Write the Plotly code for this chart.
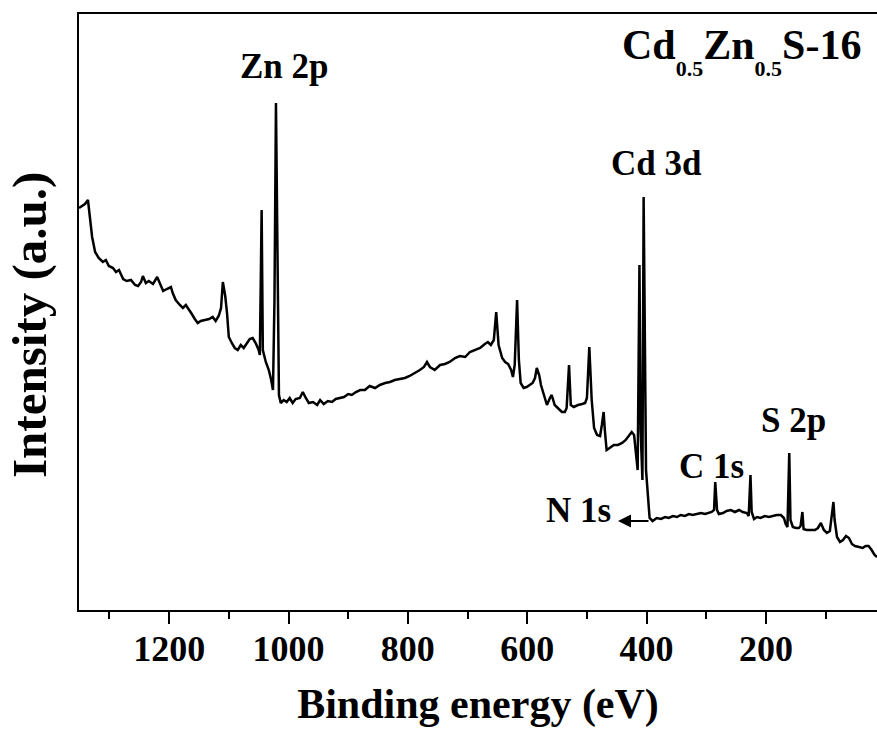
import plotly.graph_objects as go

# Binding energy (eV)
binding_energy = [
    1351, 1346, 1341, 1336, 1333, 1329, 1324, 1318, 1311, 1306, 1301, 1294, 1289, 1284,
    1277, 1271, 1264, 1257, 1252, 1247, 1244, 1239, 1234, 1227, 1220, 1215, 1210, 1204,
    1197, 1194, 1189, 1182, 1177, 1172, 1167, 1162, 1157, 1152, 1147, 1140, 1133, 1127,
    1122, 1117, 1113, 1110, 1106, 1103, 1100, 1095, 1090, 1085, 1080, 1075, 1070, 1065,
    1060, 1055, 1050, 1048, 1045, 1043, 1038, 1033, 1029, 1026, 1023.5, 1021, 1018.5,
    1016, 1013, 1008, 1003, 998, 993, 988, 981, 976, 971, 966, 959, 952, 947, 941, 934,
    927, 921, 914, 907, 900, 894, 887, 880, 872, 864, 855, 847, 838, 830, 822, 813, 805,
    797, 788, 780, 773, 768, 763, 755, 746, 738, 730, 721, 713, 704, 696, 688, 679, 671,
    666, 661, 656, 652, 648, 642, 637, 632, 627, 624, 621, 617, 614, 611, 606, 601, 596,
    591, 587, 584, 580, 577, 572, 567, 562, 559, 554, 549, 542, 537, 534, 530, 527, 522,
    515, 508, 503, 500, 496, 492, 488, 483, 478, 475, 472, 470, 467, 462, 455, 448, 441,
    435, 430, 425, 421, 418, 415, 412, 410, 407, 405, 401, 398, 395, 390, 383, 376, 369,
    363, 356, 349, 343, 336, 329, 323, 316, 309, 302, 296, 291, 287, 285, 282, 279, 272,
    266, 259, 252, 245, 239, 232, 229, 226, 224, 220, 215, 209, 202, 195, 189, 182, 175,
    170, 167, 164, 161, 159, 155, 150, 145, 142, 139, 137, 132, 125, 118, 113, 108, 103,
    98, 93, 90, 87, 85, 81, 76, 71, 66, 61, 56, 51, 44, 38, 33, 28, 23, 18, 14,
]

# Intensity (a.u.)
intensity = [
    402, 404, 406, 410, 395, 373, 358, 352, 348, 350, 344, 342, 338, 340,
    331, 329, 330, 325, 324, 328, 334, 327, 329, 326, 333, 326, 319, 321,
    323, 317, 310, 305, 302, 305, 301, 296, 291, 287, 289, 290, 291, 293,
    289, 294, 302, 328, 314, 297, 273, 267, 262, 260, 265, 262, 267, 271,
    272, 267, 260, 255, 400, 260, 248, 240, 230, 220, 310, 507, 360,
    215, 207, 210, 208, 212, 207, 211, 212, 218, 212, 207, 208, 205, 210, 206, 209,
    208, 211, 212, 213, 216, 215, 218, 220, 220, 224, 222, 225, 227, 228, 230, 231, 232,
    234, 237, 240, 243, 248, 243, 240, 245, 246, 248, 252, 254, 253, 258, 260, 262, 266,
    268, 265, 270, 298, 265, 252, 248, 246, 240, 233, 245, 310, 250, 227, 222, 223, 225,
    227, 232, 242, 235, 225, 215, 205, 212, 215, 205, 202, 198, 198, 202, 245, 205, 203,
    205, 206, 207, 212, 263, 210, 182, 175, 174, 185, 198, 180, 160, 162, 165, 165, 167,
    170, 174, 178, 175, 160, 140, 345, 180, 130, 413, 140, 110, 92, 89, 92, 91, 93,
    92, 94, 93, 95, 94, 96, 95, 96, 97, 96, 97, 98, 100, 128, 100, 96, 97,
    99, 100, 98, 100, 98, 97, 94, 135, 98, 91, 93, 92, 94, 93, 94, 95, 95,
    92, 86, 83, 157, 90, 83, 82, 82, 84, 98, 81, 80, 80, 80, 82, 87, 80,
    77, 79, 95, 108, 90, 73, 68, 70, 74, 72, 66, 64, 63, 62, 64, 64, 60, 55, 53,
]

x_tick_values = [1200, 1000, 800, 600, 400, 200]
x_tick_labels = ["1200", "1000", "800", "600", "400", "200"]

peak_labels = ["Zn 2p", "Cd 3d", "C 1s", "S 2p", "N 1s"]
SUB = '<span style="font-size:22px;baseline-shift:-17px">{}</span>'
sample_label = "Cd" + SUB.format("0.5") + "Zn" + SUB.format("0.5") + "S-16"

W, H = 877, 729
L, R, T, B = 79, 877, 14, 610


def px(x):
    return (x - L) / (R - L)


def py(y):
    return (B - y) / (B - T)


FONT = "Liberation Serif"

fig = go.Figure()
fig.add_trace(go.Scatter(
    x=binding_energy, y=intensity, mode="lines",
    line=dict(color="black", width=2.5), showlegend=False, hoverinfo="skip",
))

label_pos = [(284, 66), (656, 163), (711, 466), (793, 420), (578, 511)]
annotations = []
for text, (cx, cy) in zip(peak_labels, label_pos):
    annotations.append(dict(
        text=text, x=px(cx), y=py(cy), xref="paper", yref="paper",
        xanchor="center", yanchor="middle", showarrow=False,
        font=dict(family=FONT, size=35, color="black", weight="bold"),
    ))

annotations.append(dict(
    text=sample_label, x=px(863), y=py(51), xref="paper", yref="paper",
    xanchor="right", yanchor="middle", showarrow=False,
    font=dict(family=FONT, size=42, color="black", weight="bold"),
))

# y-axis title
annotations.append(dict(
    text="Intensity (a.u.)", x=px(29), y=py(325), xref="paper", yref="paper",
    xanchor="center", yanchor="middle", showarrow=False, textangle=-90,
    font=dict(family=FONT, size=49, color="black", weight="bold"),
))

# N 1s arrow
annotations.append(dict(
    text="", x=px(618), y=py(521), xref="paper", yref="paper",
    ax=32, ay=0, showarrow=True, arrowhead=2, arrowsize=1.3,
    arrowwidth=2, arrowcolor="black",
))

fig.update_layout(
    width=W, height=H,
    margin=dict(l=L, r=W - R, t=T, b=H - B),
    paper_bgcolor="white", plot_bgcolor="white",
    annotations=annotations,
    xaxis=dict(
        range=[1351, 14], tickvals=x_tick_values, ticktext=x_tick_labels,
        ticks="outside", ticklen=12, tickwidth=2, tickcolor="black",
        showline=True, linewidth=2, linecolor="black", mirror=True,
        showgrid=False, zeroline=False, ticklabelstandoff=-6,
        minor=dict(dtick=100, tick0=0, ticks="outside", ticklen=7, tickwidth=2,
                   tickcolor="black", showgrid=False),
        tickfont=dict(family=FONT, size=36, color="black", weight="bold"),
        title=dict(text="Binding energy (eV)", standoff=20,
                   font=dict(family=FONT, size=42, color="black", weight="bold")),
    ),
    yaxis=dict(
        range=[0, 596], showticklabels=False, ticks="",
        showline=True, linewidth=2, linecolor="black", mirror=False,
        showgrid=False, zeroline=False,
    ),
)

fig.write_html("out.html")
